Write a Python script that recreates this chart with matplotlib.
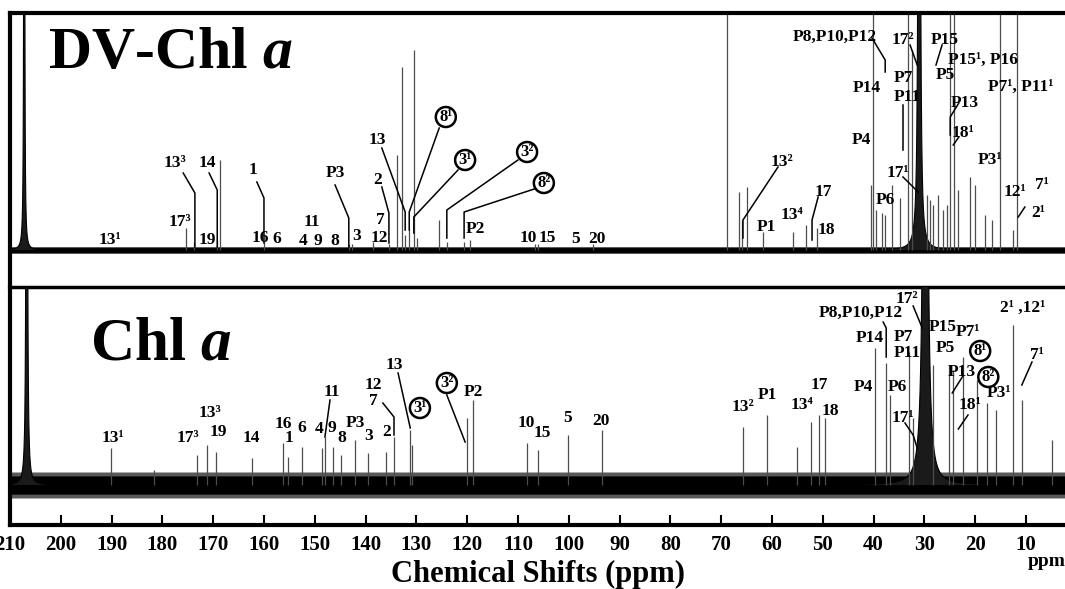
import matplotlib.pyplot as plt
import numpy as np

plt.rcParams['font.family'] = ['Liberation Serif', 'DejaVu Serif']
plt.rcParams['font.weight'] = 'bold'
plt.rcParams['mathtext.fontset'] = 'custom'
plt.rcParams['mathtext.it'] = 'Liberation Serif:italic:bold'
plt.rcParams['mathtext.rm'] = 'Liberation Serif:bold'

# DV-Chl a trace: peak position (ppm) and height above baseline
dv_ppm = [175.3, 173.8, 169.2, 168.7, 160.0, 143.3, 142.7, 138.5, 135.4, 133.8,
          132.8, 132.2, 131.4, 130.5, 129.9, 125.5, 124.0, 120.6, 119.4, 106.6,
          106.0, 95.2, 68.8, 66.5, 65.9, 64.9, 61.7, 55.8, 53.3, 51.1,
          40.5, 40.1, 39.5, 38.3, 37.7, 36.3, 34.8, 33.2, 32.4, 29.5,
          28.9, 28.3, 27.3, 26.3, 25.5, 24.9, 24.1, 23.3, 21.0, 20.0,
          18.0, 16.7, 15.1, 12.5, 11.7]
dv_int = [22, 8, 10, 90, 8, 6, 6, 8, 6, 95,
          183, 15, 20, 200, 12, 30, 8, 8, 10, 6,
          6, 6, 400, 58, 30, 63, 18, 18, 25, 22,
          65, 400, 40, 37, 35, 65, 52, 400, 200, 55,
          50, 45, 55, 40, 45, 400, 400, 60, 73, 65,
          35, 30, 400, 20, 400]
dv_solvent_ppm = [207.2, 31.0]
dv_solvent_int = [2000, 2000]
dv_solvent_w = [0.05, 0.12]

# Chl a trace
chl_ppm = [190.1, 181.6, 173.2, 171.2, 169.4, 162.4, 156.2, 155.3, 152.5, 148.6,
           148.0, 146.4, 144.8, 142.1, 139.5, 136.0, 134.4, 131.2, 130.8, 120.0,
           118.8, 108.2, 106.0, 100.1, 93.4, 65.7, 61.0, 55.0, 52.3, 50.7,
           49.5, 39.7, 37.5, 36.7, 33.0, 32.2, 28.3, 25.1, 24.3, 22.4,
           19.6, 17.6, 15.9, 12.5, 10.8, 4.8]
chl_int = [37, 15, 30, 40, 33, 27, 42, 28, 38, 37,
           48, 38, 30, 45, 32, 33, 48, 55, 40, 67,
           85, 42, 35, 50, 55, 58, 70, 38, 63, 70,
           67, 137, 122, 90, 133, 67, 120, 120, 115, 128,
           105, 82, 75, 160, 85, 45]
chl_solvent_ppm = [206.7, 29.8]
chl_solvent_int = [1700, 2000]
chl_solvent_w = [0.08, 0.23]

ticks = list(range(210, 0, -10))

# peak labels: text, ppm, height
dv_labels = [('13¹', 190.3, 10), ('17³', 176.5, 28), ('13³', 177.5, 87), ('14', 171.2, 87),
             ('19', 171.2, 10), ('1', 162.2, 80), ('16', 160.8, 12), ('6', 157.4, 11),
             ('11', 150.5, 28), ('4', 152.3, 9), ('9', 149.4, 9), ('8', 146.0, 9),
             ('P3', 146.0, 77), ('3', 141.7, 14), ('12', 137.3, 12), ('7', 137.0, 30),
             ('2', 137.7, 70), ('13', 137.7, 110), ('P2', 118.4, 21), ('10', 108.0, 12),
             ('15', 104.3, 12), ('5', 98.6, 11), ('20', 94.4, 11),
             ('P8,P10,P12', 47.6, 213), ('17²', 34.2, 210), ('P15', 25.9, 210),
             ('P15¹, P16', 18.4, 190), ('P5', 25.9, 175), ('P7¹, P11¹', 11.1, 163),
             ('P14', 41.3, 162), ('P7', 34.2, 172), ('P11', 33.4, 153), ('P13', 22.0, 147),
             ('18¹', 22.4, 117), ('P4', 42.3, 110), ('P3¹', 17.0, 90), ('13²', 58.0, 88),
             ('17¹', 35.2, 77), ('12¹', 12.1, 58), ('7¹', 6.8, 65), ('2¹', 7.6, 37),
             ('P6', 37.7, 50), ('17', 49.9, 58), ('13⁴', 56.0, 35), ('P1', 61.0, 23),
             ('18', 49.3, 20)]
dv_circled = [('8¹', 124.2, 133), ('3¹', 120.4, 90), ('3²', 108.2, 98), ('8²', 104.9, 67)]
dv_leaders = [[(175.9, 77), (173.6, 57), (173.6, 3)],
              [(170.8, 77), (169.2, 60), (169.2, 3)],
              [(161.4, 68), (160.0, 52), (160.0, 7)],
              [(146.0, 65), (143.3, 32), (143.3, 3)],
              [(136.8, 63), (135.4, 37), (135.4, 7)],
              [(136.8, 102), (132.2, 38), (132.2, 20)],
              [(125.5, 122), (131.4, 38), (131.4, 20)],
              [(121.8, 80), (130.5, 33), (130.5, 17)],
              [(110.0, 90), (124.0, 40), (124.0, 12)],
              [(106.2, 62), (120.6, 38), (120.6, 12)],
              [(40.3, 212), (37.7, 190), (37.7, 178)],
              [(32.8, 205), (31.4, 185)],
              [(26.5, 205), (27.7, 185)],
              [(34.2, 145), (34.2, 100)],
              [(23.2, 147), (24.9, 133), (24.9, 115)],
              [(23.2, 113), (24.3, 105)],
              [(58.8, 83), (65.7, 30), (65.7, 12)],
              [(34.2, 73), (31.2, 58)],
              [(50.9, 53), (52.1, 30), (52.1, 10)],
              [(10.2, 43), (11.5, 33)]]

chl_labels = [('13¹', 189.7, 47), ('17³', 175.0, 47), ('13³', 170.6, 72), ('19', 169.0, 53),
              ('14', 162.4, 47), ('16', 156.1, 61), ('1', 155.1, 47), ('6', 152.5, 57),
              ('11', 146.6, 93), ('4', 149.2, 56), ('9', 146.6, 57), ('8', 144.6, 47),
              ('P3', 142.1, 62), ('3', 139.3, 49), ('2', 135.8, 53), ('12', 138.5, 100),
              ('7', 138.5, 84), ('13', 134.4, 120), ('P2', 118.8, 93), ('10', 108.4, 62),
              ('15', 105.2, 52), ('5', 100.3, 67), ('20', 93.6, 64), ('13²', 65.7, 78),
              ('P1', 60.8, 90), ('17', 50.7, 100), ('13⁴', 54.1, 80), ('18', 48.4, 74),
              ('P4', 41.9, 98), ('P6', 35.2, 98), ('P14', 40.7, 147),
              ('P8,P10,P12', 42.6, 172), ('17²', 33.4, 186), ('P7', 34.2, 148),
              ('P11', 33.4, 132), ('P15', 26.4, 158), ('P5', 25.9, 137), ('P7¹', 21.4, 153),
              ('P13', 22.6, 113), ('P3¹', 15.3, 92), ('18¹', 21.0, 80), ('17¹', 34.2, 67),
              ('2¹ ,12¹', 10.6, 177), ('7¹', 7.8, 130)]
chl_circled = [('3¹', 129.3, 77), ('3²', 124.0, 102), ('8¹', 19.0, 134), ('8²', 17.4, 108)]
chl_leaders = [[(147.0, 85), (148.0, 48)],
               [(133.6, 112), (131.2, 57)],
               [(136.6, 82), (134.4, 68), (134.4, 50)],
               [(124.0, 90), (120.4, 43)],
               [(38.1, 163), (37.5, 157), (37.5, 128)],
               [(32.2, 179), (30.4, 157)],
               [(33.8, 62), (32.2, 50), (31.4, 37)],
               [(22.4, 109), (24.5, 92)],
               [(21.4, 70), (23.3, 56)],
               [(8.8, 123), (10.8, 100)]]


def draw_trace(ax, ppm, height, solv_ppm, solv_int, solv_w, noise):
    x = np.linspace(210, 2.3, 20000)
    y = np.zeros_like(x)
    for c, h, w in zip(solv_ppm, solv_int, solv_w):
        y += h * w**2 / ((x - c)**2 + w**2)
    ax.fill_between(x, -noise, noise, color='0.35', lw=0)
    ax.fill_between(x, -noise * 0.7, noise * 0.7, color='k', lw=0)
    ax.fill_between(x, 0, y, color='0.1', lw=0)
    ax.plot(x, y, color='k', lw=0.8)
    ax.vlines(ppm, 0, height, color='0.3', lw=0.9)


def draw_labels(ax, labels, circled, leaders):
    for txt, x, y in labels:
        ax.text(x, y, txt, ha='center', va='center', fontsize=12.5)
    for txt, x, y in circled:
        ax.text(x, y, txt, ha='center', va='center', fontsize=12,
                bbox=dict(boxstyle='circle,pad=0.12', fc='white', ec='k', lw=1.8))
    for pts in leaders:
        xs, ys = zip(*pts)
        ax.plot(xs, ys, color='k', lw=1.1)


fig = plt.figure(figsize=(10.65, 5.89), dpi=100, facecolor='w')

ax1 = fig.add_axes([10 / 1065, 302 / 589, 1055 / 1065, 274 / 589])
ax2 = fig.add_axes([10 / 1065, 64 / 589, 1055 / 1065, 238 / 589])

draw_trace(ax1, dv_ppm, dv_int, dv_solvent_ppm, dv_solvent_int, dv_solvent_w, 3.5)
draw_trace(ax2, chl_ppm, chl_int, chl_solvent_ppm, chl_solvent_int, chl_solvent_w, 13)
draw_labels(ax1, dv_labels, dv_circled, dv_leaders)
draw_labels(ax2, chl_labels, chl_circled, chl_leaders)

ax1.set_ylim(-37, 237)
ax2.set_ylim(-40, 198)
for ax in (ax1, ax2):
    ax.set_xlim(210, 2.3)
    ax.set_yticks([])
    ax.spines['right'].set_visible(False)
    ax.spines['left'].set_linewidth(3)
    ax.set_facecolor('none')

ax1.set_xticks([])
ax1.spines['top'].set_linewidth(3)
ax1.spines['bottom'].set_linewidth(2.5)
ax2.spines['top'].set_visible(False)
ax2.spines['bottom'].set_linewidth(3)

ax2.set_xticks(ticks)
ax2.set_xticklabels([str(t) for t in ticks])
ax2.tick_params(axis='x', direction='in', length=7, width=1.5, pad=7, labelsize=15)

ax1.text(0.036, 0.85, r'DV-Chl $\mathit{a}$', transform=ax1.transAxes,
         fontsize=43, ha='left', va='center')
ax2.text(0.076, 0.76, r'Chl $\mathit{a}$', transform=ax2.transAxes,
         fontsize=44, ha='left', va='center')

fig.text(538 / 1065, 1 - 574 / 589, 'Chemical Shifts (ppm)', ha='center', va='center',
         fontsize=22)
fig.text(1047 / 1065, 1 - 562 / 589, 'ppm', ha='center', va='center', fontsize=14)

fig.savefig('out.png', dpi=100)
